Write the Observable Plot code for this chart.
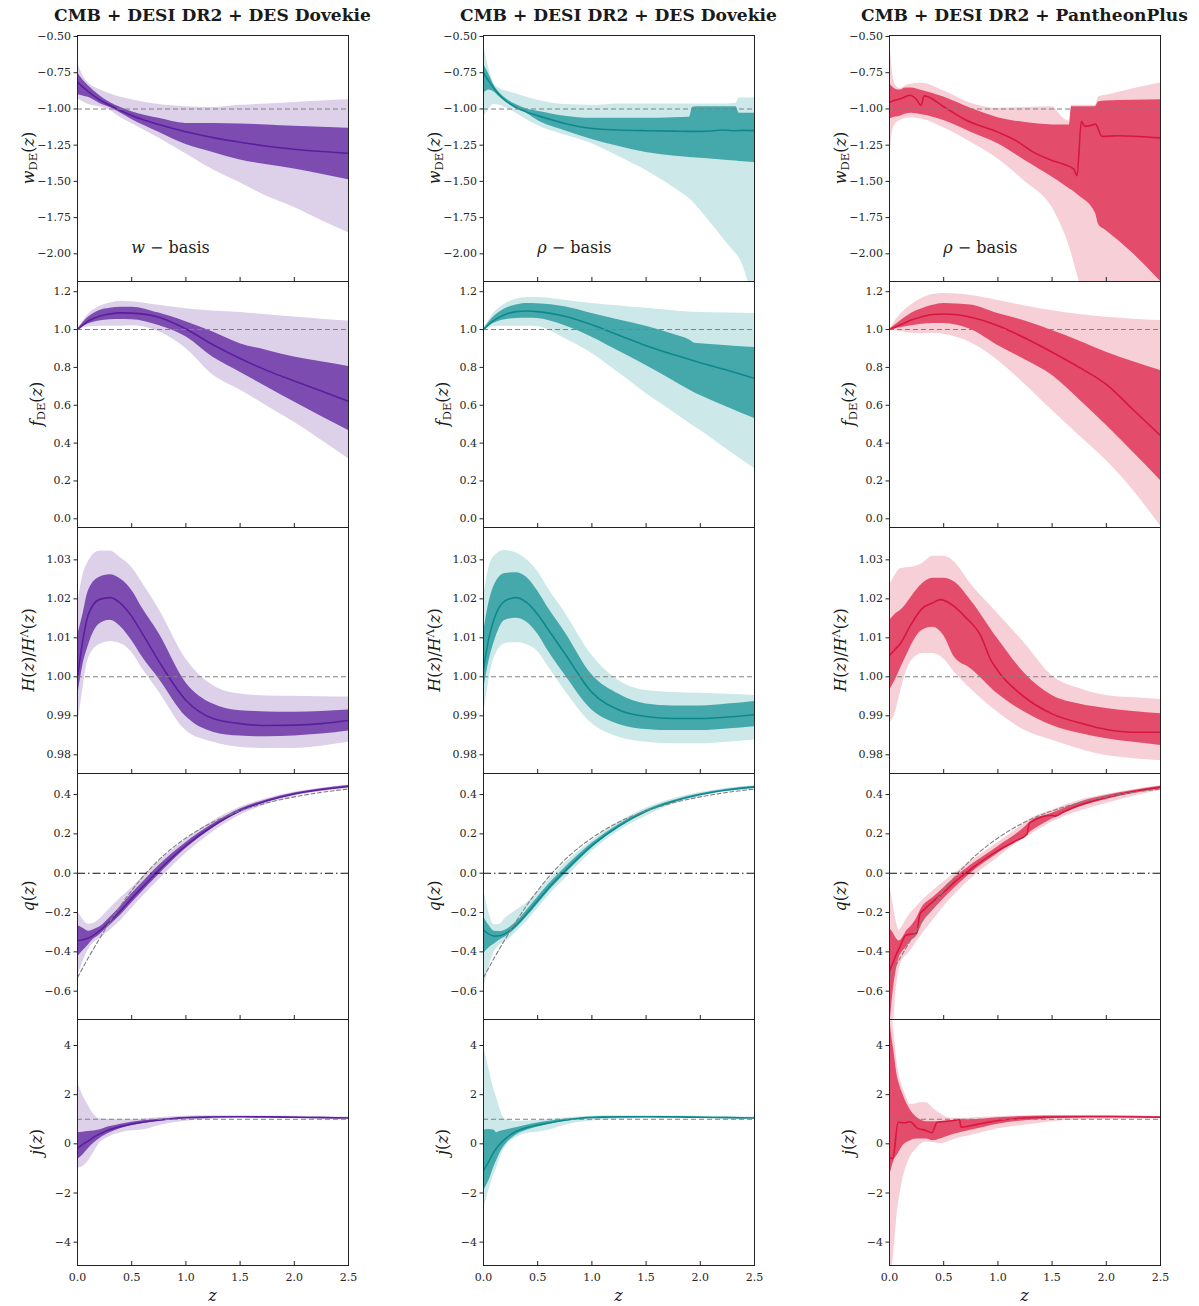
<!DOCTYPE html>
<html>
<head>
<meta charset="utf-8">
<script src="https://cdn.jsdelivr.net/npm/d3@7"></script>
<script src="https://cdn.jsdelivr.net/npm/@observablehq/plot@0.6"></script>
<style>
html,body{margin:0;padding:0;background:#fff;}
#fig{position:relative;width:1199px;height:1306px;overflow:hidden;font-family:"DejaVu Serif",serif;color:#1a1a1a;}
.t{position:absolute;white-space:nowrap;line-height:1;}
.title{font-weight:bold;font-size:17.1px;transform:translate(-50%,-50%);}
.ylab{font-size:16px;transform:translate(-50%,-50%) rotate(-90deg);}
.xlab{font-size:16px;font-style:italic;line-height:0.9;transform:translate(-50%,-50%);}
.basis{font-size:16px;transform:translate(0,-50%);}
.sub{font-size:0.72em;position:relative;top:0.3em;}
.sup{font-size:0.72em;position:relative;top:-0.5em;}
</style>
</head>
<body>
<div id="fig"></div>
<script>
// ---------- text & ticks ----------
const titles = ["CMB + DESI DR2 + DES Dovekie", "CMB + DESI DR2 + DES Dovekie", "CMB + DESI DR2 + PantheonPlus"];
const basisSymbols = ["w", "ρ", "ρ"];
const basisWord = " − basis";
const zTicks = [0, 0.5, 1.0, 1.5, 2.0, 2.5];
const wTicks = [-2.0, -1.75, -1.5, -1.25, -1.0, -0.75, -0.5];
const fTicks = [0, 0.2, 0.4, 0.6, 0.8, 1.0, 1.2];
const hTicks = [0.98, 0.99, 1.0, 1.01, 1.02, 1.03];
const qTicks = [-0.6, -0.4, -0.2, 0, 0.2, 0.4];
const jTicks = [-4, -2, 0, 2, 4];

// ---------- data: band rows [z, lo95, lo68, hi68, hi95]; median rows [z, value] ----------
// w_DE(z)
const wA_band = [[0,-0.93,-0.90,-0.75,-0.68],[0.05,-0.95,-0.91,-0.80,-0.77],[0.1,-0.97,-0.92,-0.84,-0.82],[0.2,-0.985,-0.96,-0.905,-0.865],[0.3,-1.01,-0.99,-0.955,-0.895],[0.4,-1.06,-1.03,-0.99,-0.92],[0.5,-1.10,-1.072,-1.02,-0.937],[0.75,-1.20,-1.16,-1.065,-0.97],[1.0,-1.31,-1.245,-1.10,-0.985],[1.25,-1.42,-1.30,-1.10,-0.99],[1.5,-1.51,-1.352,-1.104,-0.975],[1.75,-1.605,-1.385,-1.11,-0.965],[2.0,-1.68,-1.414,-1.12,-0.955],[2.25,-1.77,-1.45,-1.126,-0.945],[2.5,-1.855,-1.488,-1.133,-0.937]];
const wA_med = [[0,-0.815],[0.05,-0.85],[0.1,-0.88],[0.2,-0.935],[0.3,-0.975],[0.4,-1.012],[0.5,-1.045],[0.75,-1.108],[1.0,-1.158],[1.25,-1.198],[1.5,-1.23],[1.75,-1.257],[2.0,-1.278],[2.25,-1.294],[2.5,-1.306]];
const wB_band = [[0,-1.06,-0.895,-0.69,-0.55],[0.05,-1.0,-0.87,-0.76,-0.72],[0.1,-0.97,-0.885,-0.84,-0.83],[0.15,-0.975,-0.92,-0.89,-0.86],[0.2,-0.99,-0.95,-0.925,-0.875],[0.3,-1.03,-0.99,-0.97,-0.895],[0.4,-1.075,-1.03,-1.0,-0.92],[0.5,-1.115,-1.08,-1.015,-0.94],[0.75,-1.18,-1.15,-1.05,-0.97],[1.0,-1.24,-1.21,-1.065,-0.975],[1.25,-1.33,-1.26,-1.065,-0.965],[1.5,-1.425,-1.30,-1.065,-0.965],[1.75,-1.54,-1.325,-1.06,-0.965],[1.9,-1.62,-1.335,-1.058,-0.965],[1.93,-1.64,-1.337,-0.988,-0.965],[2.0,-1.70,-1.34,-0.985,-0.965],[2.25,-1.93,-1.355,-0.985,-0.965],[2.33,-2.0,-1.36,-0.985,-0.96],[2.36,-2.03,-1.362,-1.03,-0.925],[2.5,-2.35,-1.37,-1.03,-0.925]];
const wB_med = [[0,-0.75],[0.05,-0.81],[0.1,-0.862],[0.15,-0.905],[0.2,-0.94],[0.3,-0.99],[0.4,-1.022],[0.5,-1.046],[0.75,-1.10],[1.0,-1.135],[1.25,-1.145],[1.5,-1.15],[1.75,-1.153],[2.0,-1.155],[2.1,-1.152],[2.2,-1.145],[2.3,-1.15],[2.4,-1.148],[2.5,-1.15]];
const wC_band = [[0,-1.33,-1.07,-0.82,-0.50],[0.03,-1.15,-1.06,-0.85,-0.76],[0.06,-1.10,-1.055,-0.865,-0.84],[0.1,-1.08,-1.05,-0.87,-0.86],[0.15,-1.065,-1.035,-0.855,-0.84],[0.2,-1.06,-1.03,-0.855,-0.83],[0.3,-1.07,-1.04,-0.873,-0.823],[0.5,-1.13,-1.08,-0.918,-0.875],[0.75,-1.23,-1.16,-0.996,-0.96],[1.0,-1.345,-1.24,-1.06,-0.995],[1.25,-1.50,-1.355,-1.094,-0.99],[1.5,-1.68,-1.47,-1.11,-0.985],[1.6,-1.83,-1.52,-1.11,-1.06],[1.66,-1.95,-1.55,-1.11,-1.085],[1.68,-2.0,-1.56,-0.985,-0.975],[1.75,-2.19,-1.60,-0.985,-0.975],[1.9,-2.5,-1.72,-0.985,-0.975],[1.93,-2.55,-1.80,-0.95,-0.915],[2.0,-2.6,-1.84,-0.945,-0.905],[2.25,-2.6,-2.0,-0.94,-0.86],[2.5,-2.6,-2.19,-0.936,-0.82]];
const wC_med = [[0,-0.955],[0.05,-0.94],[0.1,-0.93],[0.19,-0.905],[0.25,-0.935],[0.29,-0.975],[0.32,-0.91],[0.5,-0.985],[0.7,-1.075],[1.0,-1.16],[1.17,-1.22],[1.33,-1.30],[1.5,-1.355],[1.6,-1.38],[1.7,-1.415],[1.73,-1.46],[1.77,-1.085],[1.8,-1.12],[1.85,-1.115],[1.9,-1.105],[1.96,-1.19],[2.1,-1.185],[2.3,-1.19],[2.5,-1.20]];

// f_DE(z)
const fA_band = [[0,1.0,1.0,1.0,1.0],[0.1,1.013,1.03,1.065,1.08],[0.2,1.017,1.045,1.10,1.12],[0.3,1.018,1.052,1.113,1.14],[0.4,1.018,1.053,1.118,1.15],[0.5,1.02,1.052,1.118,1.147],[0.75,0.99,1.022,1.087,1.128],[1.0,0.90,0.962,1.041,1.11],[1.25,0.76,0.854,0.987,1.098],[1.5,0.68,0.775,0.925,1.09],[1.75,0.595,0.695,0.89,1.078],[2.0,0.51,0.617,0.855,1.066],[2.25,0.415,0.54,0.83,1.055],[2.5,0.317,0.467,0.805,1.045]];
const fA_med = [[0,1.0],[0.1,1.045],[0.2,1.07],[0.3,1.083],[0.4,1.088],[0.5,1.087],[0.75,1.065],[1.0,1.003],[1.25,0.92],[1.5,0.847],[1.75,0.783],[2.0,0.728],[2.25,0.675],[2.5,0.62]];
const fB_band = [[0,1.0,1.0,1.0,1.0],[0.1,1.015,1.035,1.07,1.09],[0.2,1.017,1.052,1.11,1.135],[0.3,1.017,1.058,1.13,1.16],[0.4,1.017,1.06,1.138,1.17],[0.5,1.015,1.058,1.137,1.17],[0.75,0.953,1.02,1.12,1.155],[1.0,0.874,0.96,1.085,1.138],[1.25,0.77,0.885,1.05,1.125],[1.5,0.662,0.81,1.017,1.112],[1.75,0.565,0.73,0.975,1.10],[1.9,0.505,0.68,0.945,1.093],[1.95,0.485,0.665,0.928,1.091],[2.0,0.467,0.652,0.925,1.09],[2.25,0.365,0.59,0.915,1.087],[2.5,0.266,0.53,0.905,1.085]];
const fB_med = [[0,1.0],[0.1,1.05],[0.2,1.08],[0.3,1.095],[0.4,1.098],[0.5,1.095],[0.75,1.07],[1.0,1.025],[1.25,0.97],[1.5,0.915],[1.75,0.868],[2.0,0.825],[2.25,0.785],[2.5,0.742]];
const fC_band = [[0,1.0,1.0,1.0,1.0],[0.1,0.99,1.01,1.045,1.08],[0.2,0.98,1.02,1.085,1.13],[0.3,0.978,1.028,1.11,1.165],[0.4,0.98,1.032,1.128,1.185],[0.5,0.975,1.032,1.138,1.19],[0.75,0.93,1.0,1.13,1.18],[1.0,0.837,0.916,1.085,1.154],[1.25,0.71,0.84,1.045,1.125],[1.5,0.573,0.758,0.995,1.10],[1.75,0.44,0.63,0.94,1.08],[2.0,0.308,0.494,0.88,1.065],[2.25,0.15,0.35,0.83,1.055],[2.5,-0.04,0.203,0.784,1.048]];
const fC_med = [[0,1.0],[0.1,1.025],[0.2,1.05],[0.3,1.068],[0.4,1.08],[0.5,1.082],[0.75,1.065],[1.0,1.02],[1.25,0.955],[1.5,0.88],[1.75,0.80],[2.0,0.71],[2.25,0.575],[2.5,0.44]];

// H(z)/H^Lambda(z)
const hA_band = [[0,0.9867,0.9945,1.0104,1.0183],[0.05,0.997,1.003,1.016,1.026],[0.1,1.0046,1.008,1.022,1.0295],[0.2,1.0082,1.0135,1.0255,1.0322],[0.3,1.009,1.0145,1.0262,1.0323],[0.4,1.0085,1.0128,1.025,1.0305],[0.5,1.0063,1.0093,1.0222,1.0281],[0.6,1.002,1.005,1.0175,1.024],[0.75,0.9962,0.9995,1.0112,1.0174],[1.0,0.9862,0.9898,0.9985,1.0046],[1.25,0.9832,0.9858,0.993,0.9978],[1.5,0.9819,0.9848,0.9913,0.9956],[1.75,0.9816,0.9846,0.991,0.9951],[2.0,0.9816,0.9848,0.9909,0.995],[2.25,0.9822,0.9853,0.9911,0.9949],[2.5,0.9832,0.9861,0.9915,0.9948]];
const hA_med = [[0,1.0],[0.05,1.0095],[0.1,1.016],[0.2,1.0198],[0.3,1.0203],[0.4,1.0188],[0.5,1.0155],[0.6,1.011],[0.75,1.004],[1.0,0.994],[1.25,0.9893],[1.5,0.988],[1.75,0.9875],[2.0,0.9876],[2.25,0.988],[2.5,0.9888]];
const hB_band = [[0,0.990,0.9965,1.011,1.0205],[0.05,0.999,1.004,1.019,1.028],[0.1,1.005,1.009,1.0235,1.031],[0.2,1.0085,1.0145,1.0265,1.0324],[0.3,1.0088,1.015,1.0267,1.0318],[0.4,1.0082,1.014,1.0255,1.030],[0.5,1.0065,1.011,1.022,1.027],[0.6,1.0025,1.0065,1.0175,1.0225],[0.75,0.9965,1.0005,1.0115,1.0165],[1.0,0.988,0.9915,1.0005,1.0055],[1.25,0.9845,0.9878,0.9955,0.999],[1.5,0.9832,0.9865,0.993,0.9965],[1.75,0.9828,0.9862,0.9925,0.996],[2.0,0.9828,0.9862,0.9925,0.9958],[2.25,0.9832,0.9866,0.993,0.9955],[2.5,0.9838,0.9872,0.9937,0.9952]];
const hB_med = [[0,1.002],[0.05,1.010],[0.1,1.015],[0.2,1.0195],[0.3,1.0203],[0.4,1.019],[0.5,1.016],[0.6,1.012],[0.75,1.006],[1.0,0.996],[1.25,0.9915],[1.5,0.9898],[1.75,0.9893],[2.0,0.9893],[2.25,0.9897],[2.5,0.9903]];
const hC_band = [[0,0.988,0.9965,1.0144,1.0234],[0.05,0.9905,0.999,1.016,1.026],[0.1,0.996,1.0021,1.017,1.0277],[0.15,1.001,1.005,1.0185,1.028],[0.2,1.004,1.008,1.0204,1.0281],[0.3,1.0059,1.0119,1.0238,1.029],[0.4,1.006,1.0127,1.0253,1.0309],[0.5,1.0046,1.0106,1.0253,1.0309],[0.6,1.0012,1.005,1.0243,1.0294],[0.75,0.9969,1.0021,1.0196,1.0238],[1.0,0.9909,0.9956,1.0097,1.0162],[1.25,0.9862,0.9909,1.0008,1.0085],[1.5,0.9837,0.9875,0.9952,1.0003],[1.75,0.9815,0.9855,0.993,0.997],[2.0,0.9798,0.9841,0.9919,0.9952],[2.25,0.979,0.9832,0.9911,0.9946],[2.5,0.9785,0.9824,0.9905,0.9942]];
const hC_med = [[0,1.0055],[0.05,1.007],[0.1,1.0085],[0.2,1.0135],[0.3,1.0175],[0.4,1.019],[0.47,1.0198],[0.6,1.018],[0.7,1.0153],[0.84,1.0106],[0.93,1.0046],[1.02,1.0008],[1.17,0.9965],[1.33,0.9931],[1.5,0.9905],[1.79,0.9879],[2.0,0.9865],[2.25,0.9858],[2.5,0.9858]];

// q(z)
const qA_band = [[0,-0.53,-0.427,-0.266,-0.19],[0.05,-0.45,-0.395,-0.28,-0.235],[0.1,-0.39,-0.365,-0.295,-0.26],[0.15,-0.355,-0.335,-0.287,-0.255],[0.2,-0.335,-0.315,-0.275,-0.235],[0.3,-0.29,-0.265,-0.225,-0.18],[0.4,-0.24,-0.212,-0.168,-0.125],[0.5,-0.18,-0.152,-0.104,-0.075],[0.6,-0.12,-0.093,-0.047,-0.02],[0.75,-0.035,-0.008,0.038,0.06],[1.0,0.10,0.125,0.155,0.17],[1.25,0.21,0.23,0.25,0.265],[1.5,0.295,0.31,0.326,0.335],[1.75,0.35,0.362,0.374,0.38],[2.0,0.39,0.398,0.408,0.412],[2.25,0.414,0.42,0.43,0.432],[2.5,0.43,0.436,0.446,0.448]];
const qA_med = [[0,-0.342],[0.05,-0.338],[0.1,-0.33],[0.15,-0.315],[0.2,-0.295],[0.3,-0.245],[0.4,-0.19],[0.5,-0.128],[0.6,-0.07],[0.75,0.015],[1.0,0.14],[1.25,0.24],[1.5,0.318],[1.75,0.368],[2.0,0.403],[2.25,0.425],[2.5,0.441]];
const qB_band = [[0,-0.6,-0.41,-0.22,-0.08],[0.05,-0.48,-0.38,-0.265,-0.2],[0.1,-0.40,-0.36,-0.295,-0.262],[0.15,-0.365,-0.34,-0.297,-0.26],[0.2,-0.35,-0.325,-0.29,-0.23],[0.3,-0.30,-0.28,-0.25,-0.19],[0.4,-0.245,-0.222,-0.188,-0.15],[0.5,-0.18,-0.158,-0.122,-0.095],[0.6,-0.115,-0.093,-0.057,-0.035],[0.75,-0.03,-0.007,0.027,0.05],[1.0,0.11,0.128,0.152,0.165],[1.25,0.215,0.232,0.248,0.26],[1.5,0.29,0.308,0.322,0.33],[1.75,0.35,0.36,0.37,0.378],[2.0,0.39,0.396,0.404,0.41],[2.25,0.415,0.419,0.427,0.432],[2.5,0.43,0.434,0.442,0.445]];
const qB_med = [[0,-0.29],[0.05,-0.31],[0.1,-0.32],[0.15,-0.318],[0.2,-0.308],[0.3,-0.265],[0.4,-0.205],[0.5,-0.14],[0.6,-0.075],[0.75,0.01],[1.0,0.14],[1.25,0.24],[1.5,0.315],[1.75,0.365],[2.0,0.40],[2.25,0.423],[2.5,0.438]];
const qC_band = [[0,-0.85,-0.8,-0.28,-0.05],[0.03,-0.8,-0.62,-0.3,-0.15],[0.06,-0.6,-0.5,-0.33,-0.24],[0.09,-0.49,-0.43,-0.345,-0.29],[0.12,-0.44,-0.4,-0.33,-0.27],[0.15,-0.42,-0.38,-0.3,-0.24],[0.2,-0.39,-0.345,-0.27,-0.2],[0.25,-0.35,-0.32,-0.23,-0.17],[0.3,-0.31,-0.26,-0.175,-0.14],[0.4,-0.24,-0.19,-0.125,-0.09],[0.5,-0.17,-0.13,-0.075,-0.045],[0.6,-0.11,-0.075,-0.025,0.0],[0.75,-0.03,0.0,0.04,0.06],[1.0,0.08,0.1,0.135,0.155],[1.25,0.18,0.19,0.235,0.255],[1.3,0.195,0.21,0.262,0.275],[1.5,0.26,0.275,0.305,0.32],[1.75,0.315,0.335,0.36,0.37],[2.0,0.355,0.375,0.395,0.40],[2.25,0.39,0.405,0.42,0.425],[2.5,0.42,0.43,0.442,0.445]];
const qC_med = [[0,-0.50],[0.05,-0.43],[0.1,-0.37],[0.15,-0.315],[0.25,-0.305],[0.28,-0.21],[0.32,-0.185],[0.4,-0.145],[0.5,-0.097],[0.6,-0.045],[0.75,0.02],[1.0,0.115],[1.15,0.16],[1.27,0.20],[1.29,0.255],[1.5,0.295],[1.53,0.29],[1.6,0.31],[1.75,0.345],[2.0,0.385],[2.25,0.415],[2.5,0.437]];
const qLCDM = [[0,-0.53],[0.1,-0.43],[0.2,-0.336],[0.3,-0.246],[0.4,-0.163],[0.5,-0.088],[0.6,-0.02],[0.7,0.04],[0.8,0.093],[1.0,0.179],[1.25,0.26],[1.5,0.317],[1.75,0.358],[2.0,0.388],[2.25,0.411],[2.5,0.428]];

// j(z)
const jA_band = [[0,-0.99,-0.65,0.45,2.51],[0.05,-0.92,-0.45,0.47,1.97],[0.1,-0.7,-0.2,0.5,1.56],[0.15,-0.35,0.02,0.52,1.2],[0.2,0.0,0.2,0.56,1.02],[0.3,0.3,0.45,0.7,0.99],[0.4,0.45,0.62,0.8,0.98],[0.5,0.53,0.74,0.88,0.98],[0.6,0.56,0.82,0.94,1.0],[0.75,0.74,0.92,1.0,1.06],[1.0,0.92,1.035,1.085,1.12],[1.25,1.0,1.075,1.105,1.14],[1.5,1.04,1.085,1.115,1.14],[1.75,1.035,1.08,1.11,1.13],[2.0,1.03,1.068,1.095,1.12],[2.25,1.025,1.055,1.078,1.105],[2.5,1.02,1.04,1.062,1.09]];
const jA_med = [[0,-0.18],[0.05,-0.02],[0.1,0.12],[0.15,0.27],[0.2,0.39],[0.3,0.58],[0.4,0.71],[0.5,0.81],[0.6,0.88],[0.75,0.96],[1.0,1.06],[1.25,1.09],[1.5,1.10],[1.75,1.095],[2.0,1.08],[2.25,1.065],[2.5,1.05]];
const jB_band = [[0,-2.65,-1.9,0.55,4.05],[0.05,-1.9,-1.5,0.58,3.05],[0.1,-1.2,-0.9,0.55,2.15],[0.12,-1.0,-0.7,0.45,1.9],[0.15,-0.6,-0.4,0.5,1.45],[0.2,-0.15,-0.05,0.55,1.0],[0.3,0.25,0.35,0.65,0.92],[0.4,0.42,0.55,0.76,0.93],[0.5,0.47,0.68,0.85,0.95],[0.6,0.55,0.79,0.92,0.99],[0.75,0.76,0.92,1.0,1.05],[1.0,0.93,1.045,1.095,1.12],[1.25,1.0,1.08,1.11,1.14],[1.5,1.03,1.088,1.112,1.14],[1.75,1.03,1.083,1.107,1.13],[2.0,1.03,1.07,1.093,1.12],[2.25,1.025,1.056,1.077,1.105],[2.5,1.02,1.042,1.06,1.09]];
const jB_med = [[0,-1.09],[0.05,-0.7],[0.1,-0.3],[0.15,-0.02],[0.2,0.2],[0.3,0.5],[0.4,0.66],[0.5,0.76],[0.6,0.85],[0.75,0.96],[1.0,1.07],[1.25,1.095],[1.5,1.10],[1.75,1.095],[2.0,1.08],[2.25,1.065],[2.5,1.05]];
const jC_band = [[0,-5.5,-1.3,5.2,5.5],[0.02,-5.2,-1.0,4.4,5.3],[0.04,-4.4,-0.7,3.8,4.6],[0.07,-2.9,-0.475,2.8,3.3],[0.1,-1.97,-0.25,2.3,2.6],[0.13,-1.3,-0.05,1.95,2.2],[0.16,-0.88,0.05,1.63,1.85],[0.19,-0.55,0.12,1.4,1.6],[0.25,-0.2,0.2,1.08,1.63],[0.28,-0.05,0.2,0.99,1.67],[0.34,0.07,0.2,0.9,1.67],[0.4,0.05,0.13,0.9,1.45],[0.47,0.0,0.2,0.9,1.22],[0.56,0.12,0.34,0.93,1.04],[0.65,0.25,0.45,0.98,1.03],[0.75,0.34,0.55,0.98,1.05],[1.0,0.61,0.8,1.06,1.1],[1.33,0.81,0.97,1.12,1.14],[1.64,0.95,1.05,1.13,1.14],[2.0,0.99,1.08,1.13,1.14],[2.5,1.02,1.06,1.1,1.11]];
const jC_med = [[0,-0.54],[0.03,-0.6],[0.08,0.88],[0.14,0.86],[0.19,0.9],[0.26,0.63],[0.33,0.55],[0.39,0.45],[0.44,0.88],[0.58,0.94],[0.645,0.99],[0.66,0.68],[0.8,0.78],[1.0,0.95],[1.25,1.05],[1.5,1.09],[2.0,1.1],[2.5,1.08]];

// ---------- layout & style ----------
const palettes = [
  {light: "#ddd1ea", dark: "#7d4cb0", line: "#5b1f9e"},
  {light: "#cde8e9", dark: "#45a9ac", line: "#0d898d"},
  {light: "#f6cfd7", dark: "#e34d6b", line: "#d8163e"}
];
const rowsCfg = [
  {ticks: wTicks, fmt: ".2f", domain: [-2.191, -0.493], ref: -1, labOff: 48, label: '<i>w</i><span class="sub">DE</span>(<i>z</i>)'},
  {ticks: fTicks, fmt: ".1f", domain: [-0.046, 1.254], ref: 1, labOff: 40, label: '<i>f</i><span class="sub">DE</span>(<i>z</i>)'},
  {ticks: hTicks, fmt: ".2f", domain: [0.9752, 1.0383], ref: 1, labOff: 48, label: '<i>H</i>(<i>z</i>)/<i>H</i><span class="sup">Λ</span>(<i>z</i>)'},
  {ticks: qTicks, fmt: ".1f", domain: [-0.744, 0.507], ref: 0, labOff: 48, label: '<i>q</i>(<i>z</i>)'},
  {ticks: jTicks, fmt: "d", domain: [-4.95, 5.058], ref: 1, labOff: 40, label: '<i>j</i>(<i>z</i>)'}
];
const bands = [[wA_band, wB_band, wC_band],[fA_band, fB_band, fC_band],[hA_band, hB_band, hC_band],[qA_band, qB_band, qC_band],[jA_band, jB_band, jC_band]];
const meds = [[wA_med, wB_med, wC_med],[fA_med, fB_med, fC_med],[hA_med, hB_med, hC_med],[qA_med, qB_med, qC_med],[jA_med, jB_med, jC_med]];

const colLeft = [77, 483, 889];
const rowTop = [35, 281, 527, 773, 1019];
const PW = 271, PH = 246;
const fig = document.getElementById("fig");
const curve = "monotone-x";

function addText(cls, html, x, y) {
  const d = document.createElement("div");
  d.className = "t " + cls;
  d.innerHTML = html;
  d.style.left = x + "px";
  d.style.top = y + "px";
  fig.appendChild(d);
  return d;
}

rowsCfg.forEach((rc, r) => {
  [0, 1, 2].forEach(c => {
    const mL = 62, mR = 10, mT = 10, mB = r === 4 ? 34 : 10;
    const pal = palettes[c];
    const X = d => d[0];
    const marks = [
      Plot.areaY(bands[r][c], {x: X, y1: d => d[1], y2: d => d[4], fill: pal.light, curve, clip: true}),
      Plot.areaY(bands[r][c], {x: X, y1: d => d[2], y2: d => d[3], fill: pal.dark, curve, clip: true}),
      Plot.line(meds[r][c], {x: X, y: d => d[1], stroke: pal.line, strokeWidth: 1.6, curve, clip: true})
    ];
    if (r === 3) {
      marks.push(Plot.line(qLCDM, {x: X, y: d => d[1], stroke: "#808080", strokeWidth: 1.1, strokeDasharray: "4,2.5", curve, clip: true}));
      marks.push(Plot.ruleY([rc.ref], {stroke: "#111", strokeWidth: 1.1, strokeDasharray: "8,3,1.5,3"}));
    } else {
      marks.push(Plot.ruleY([rc.ref], {stroke: "#808080", strokeWidth: 1.1, strokeDasharray: "5,3"}));
    }
    marks.push(Plot.frame({stroke: "#222", strokeWidth: 1}));
    marks.push(Plot.ruleX(zTicks, {x: d => d, insetTop: PH - 4, stroke: "#222"}));
    marks.push(Plot.axisY(rc.ticks, {anchor: "left", tickSize: 3.5, tickPadding: 3, tickFormat: d3.format(rc.fmt), label: null}));
    if (r === 4) {
      marks.push(Plot.axisX(zTicks, {anchor: "bottom", tickSize: 0, tickPadding: 8, tickFormat: d3.format(".1f"), label: null}));
    }
    const chart = Plot.plot({
      width: PW + mL + mR,
      height: PH + mT + mB,
      marginLeft: mL, marginRight: mR, marginTop: mT, marginBottom: mB,
      style: {background: "none", fontFamily: "'DejaVu Serif', serif", fontSize: "11px", color: "#262626", overflow: "visible"},
      x: {domain: [0, 2.5], axis: null},
      y: {domain: rc.domain, axis: null},
      marks
    });
    const sl = colLeft[c] - mL, st = rowTop[r] - mT;
    chart.style.position = "absolute";
    chart.style.left = sl + "px";
    chart.style.top = st + "px";
    fig.appendChild(chart);

    addText("ylab", rc.label, colLeft[c] - rc.labOff, rowTop[r] + PH / 2);
    if (r === 0) {
      const sx = chart.scale("x"), sy = chart.scale("y");
      addText("basis", '<i>' + basisSymbols[c] + '</i>' + basisWord, sl + sx.apply(0.5), st + sy.apply(-1.96));
    }
    if (r === 4) {
      addText("xlab", "z", colLeft[c] + PW / 2, 1296);
    }
  });
});

titles.forEach((t, c) => addText("title", t, colLeft[c] + PW / 2, 16));
</script>
</body>
</html>
